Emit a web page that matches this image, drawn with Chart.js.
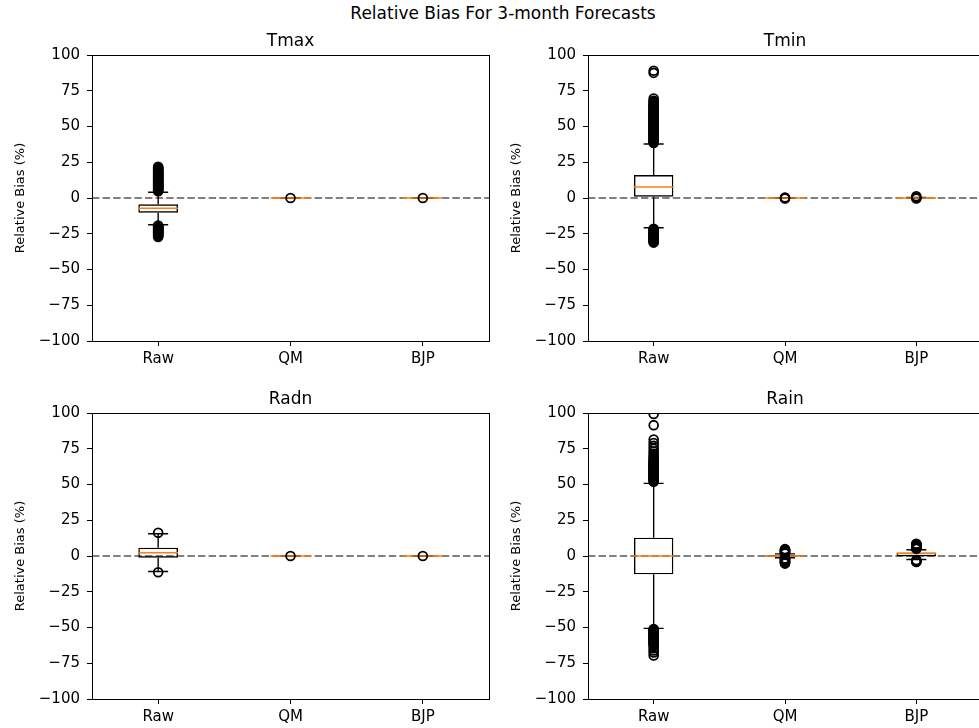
<!DOCTYPE html>
<html>
<head>
<meta charset="utf-8">
<script src="https://cdn.jsdelivr.net/npm/chart.js@4.4.1/dist/chart.umd.min.js"></script>
<style>
    html, body { margin: 0; padding: 0; background: #fff; }
    body { width: 979px; height: 728px; overflow: hidden; position: relative; font-family: 'DejaVu Sans', sans-serif; }
    .suptitle { position: absolute; left: 0; width: 1006px; top: 3px; text-align: center; font-size: 17px; color: #000; }
    canvas { position: absolute; }
    #chart-tmax { left: 0; top: 31px; }
    #chart-tmin { left: 496px; top: 31px; }
    #chart-radn { left: 0; top: 389px; }
    #chart-rain { left: 496px; top: 389px; }
</style>
</head>
<body>
<div class="suptitle">Relative Bias For 3-month Forecasts</div>
<canvas id="chart-tmax" width="495" height="339"></canvas>
<canvas id="chart-tmin" width="490" height="339"></canvas>
<canvas id="chart-radn" width="495" height="339"></canvas>
<canvas id="chart-rain" width="490" height="339"></canvas>
<script>
const categories = ['Raw', 'QM', 'BJP'];
const yTickValues = [-100, -75, -50, -25, 0, 25, 50, 75, 100];
const referenceLine = 0;

// Tmax
const tmaxQ1 = [-10.3, 0, 0];
const tmaxMedian = [-7.2, 0, 0];
const tmaxQ3 = [-4.4, 0, 0];
const tmaxWhiskerLow = [-18.7, 0, 0];
const tmaxWhiskerHigh = [4.0, 0, 0];
const tmaxOutliersRaw = [4.8, 5.2, 5.5, 5.9, 6.2, 6.6, 7.0, 7.4, 7.8, 8.1, 8.5, 8.9, 9.3, 9.6, 10.0, 10.4, 10.8, 11.1, 11.5, 11.9, 12.3, 12.6, 13.0, 13.4, 13.8, 14.1, 14.5, 14.9, 15.3, 15.6, 16.0, 16.4, 16.8, 17.1, 17.5, 17.9, 18.3, 18.6, 19.0, 19.5, 20.0, 20.5, 21.0, 21.4, 21.8,
    -19.2, -19.6, -19.9, -20.3, -20.6, -21.0, -21.3, -21.7, -22.0, -22.4, -22.7, -23.1, -23.4, -23.8, -24.1, -24.5, -24.8, -25.2, -25.5, -25.9, -26.3, -26.7, -27.2];
const tmaxOutliersQM = [0];
const tmaxOutliersBJP = [0];

// Tmin
const tminQ1 = [0.9, 0, 0.2];
const tminMedian = [7.7, 0, 0];
const tminQ3 = [16.0, 0, 0.2];
const tminWhiskerLow = [-20.8, 0, 0];
const tminWhiskerHigh = [37.8, 0, 0.3];
const tminOutliersRaw = [38.5, 39.0, 39.5, 40.0, 40.5, 41.0, 41.5, 42.0, 42.5, 43.0, 43.5, 44.0, 44.5, 45.0, 45.5, 46.0, 46.5, 47.0, 47.5, 48.0, 48.5, 49.0, 49.5, 50.0, 50.5, 51.0, 51.5, 52.0, 52.5, 53.0, 53.5, 54.0, 54.5, 55.0, 55.5, 56.0, 56.5, 57.0, 57.5, 58.0, 58.5, 59.0, 59.5, 60.0, 60.5, 61.0, 61.5, 62.0, 62.5, 63.0, 63.5, 64.0, 64.5, 65.0, 65.5, 66.5, 67.5, 68.0, 69.5, 87.5, 89.0,
    -21.5, -21.9, -22.3, -22.7, -23.1, -23.5, -23.9, -24.3, -24.7, -25.1, -25.5, -25.9, -26.3, -26.7, -27.1, -27.5, -27.9, -28.3, -28.7, -29.1, -29.5, -29.9, -30.3, -30.8, -31.2];
const tminOutliersQM = [0.4, 0, -0.3];
const tminOutliersBJP = [1.2, 0.4, -0.4];

// Radn
const radnQ1 = [-1.2, 0, 0];
const radnMedian = [2.3, 0, 0];
const radnQ3 = [5.8, 0, 0];
const radnWhiskerLow = [-10.8, 0, 0];
const radnWhiskerHigh = [15.6, 0, 0];
const radnOutliersRaw = [16.2, -11.4];
const radnOutliersQM = [0];
const radnOutliersBJP = [0];

// Rain
const rainQ1 = [-12.8, -0.4, -0.3];
const rainMedian = [0, 0, 1.8];
const rainQ3 = [12.8, 0.5, 2.5];
const rainWhiskerLow = [-50.6, -1.2, -2.4];
const rainWhiskerHigh = [50.8, 1.5, 4.4];
const rainOutliersRaw = [52, 52.5, 53, 53.5, 54, 54.5, 55, 55.5, 56, 56.5, 57, 57.5, 58, 58.5, 59, 59.5, 60, 60.5, 61, 61.5, 62, 62.5, 63, 63.5, 64, 64.5, 65, 65.5, 66, 66.5, 67, 68, 69, 70, 71.5, 73, 75, 77, 79, 81.5, 91.5, 99.3,
    -51, -51.5, -52, -52.5, -53, -53.5, -54, -54.5, -55, -55.5, -56, -56.5, -57, -57.5, -58, -58.5, -59, -59.5, -60, -60.5, -61, -61.5, -62, -63, -64.5, -66, -67.5, -69.5];
const rainOutliersQM = [1.8, 2.1, 2.4, 2.7, 3.0, 3.3, 3.6, 3.9, 4.2, 4.5, 4.8, -1.8, -2.1, -2.5, -2.8, -3.2, -3.5, -3.9, -4.2, -4.6, -4.9, -5.3];
const rainOutliersBJP = [5.0, 5.3, 5.6, 5.9, 6.2, 6.5, 6.8, 7.1, 7.4, 7.7, 8.0, 8.3, 8.6, -2.9, -3.2, -3.5, -3.9, -4.2];

Chart.defaults.font.family = "'DejaVu Sans', sans-serif";
Chart.defaults.color = '#000';

const zeroLinePlugin = {
    id: 'zeroLine',
    beforeDatasetsDraw(chart) {
        const { ctx, chartArea, scales } = chart;
        const y = scales.y.getPixelForValue(referenceLine);
        ctx.save();
        ctx.strokeStyle = '#808080';
        ctx.lineWidth = 2;
        ctx.setLineDash([7.4, 3.2]);
        ctx.beginPath();
        ctx.moveTo(chartArea.left, y);
        ctx.lineTo(chartArea.right, y);
        ctx.stroke();
        ctx.restore();
    }
};

// full frame around the plot area (matplotlib spines)
const framePlugin = {
    id: 'frame',
    afterDatasetsDraw(chart) {
        const { ctx, chartArea } = chart;
        ctx.save();
        ctx.strokeStyle = '#000';
        ctx.lineWidth = 1;
        ctx.strokeRect(chartArea.left + 0.5, chartArea.top + 0.5, chartArea.right - chartArea.left, chartArea.bottom - chartArea.top);
        ctx.restore();
    }
};

function minusLabel(v) {
    return v < 0 ? '\u2212' + Math.abs(v) : String(v);
}

function renderBoxplot(canvasId, title, q1, median, q3, whiskerLow, whiskerHigh, outliers) {
    const whiskerPoints = [];
    const capPoints = [];
    categories.forEach((c, i) => {
        whiskerPoints.push({ x: c, y: q1[i] }, { x: c, y: whiskerLow[i] }, { x: c, y: null });
        whiskerPoints.push({ x: c, y: q3[i] }, { x: c, y: whiskerHigh[i] }, { x: c, y: null });
        capPoints.push({ x: c, y: whiskerLow[i] }, { x: c, y: whiskerHigh[i] });
    });
    const medianPoints = categories.map((c, i) => ({ x: c, y: median[i] }));
    const outlierPoints = [];
    categories.forEach((c, i) => {
        outliers[i].forEach(v => outlierPoints.push({ x: c, y: v }));
    });

    const isLeft = canvasId === 'chart-tmax' || canvasId === 'chart-radn';

    new Chart(document.getElementById(canvasId), {
        type: 'bar',
        data: {
            labels: categories,
            datasets: [
                {
                    type: 'bar',
                    data: categories.map((c, i) => [q1[i], q3[i]]),
                    backgroundColor: 'transparent',
                    borderColor: '#000',
                    borderWidth: 1.4,
                    borderSkipped: false,
                    barPercentage: 0.3,
                    categoryPercentage: 1,
                    order: 5
                },
                {
                    type: 'line',
                    data: whiskerPoints,
                    borderColor: '#000',
                    borderWidth: 1.4,
                    pointRadius: 0,
                    spanGaps: false,
                    order: 4
                },
                {
                    type: 'line',
                    data: capPoints,
                    showLine: false,
                    pointStyle: 'line',
                    pointRadius: 10,
                    borderColor: '#000',
                    borderWidth: 1.4,
                    order: 3
                },
                {
                    type: 'line',
                    data: medianPoints,
                    showLine: false,
                    pointStyle: 'line',
                    pointRadius: 20,
                    borderColor: '#ff7f0e',
                    borderWidth: 1.4,
                    order: 2
                },
                {
                    type: 'line',
                    data: outlierPoints,
                    showLine: false,
                    pointStyle: 'circle',
                    pointRadius: 4.4,
                    borderColor: '#000',
                    backgroundColor: 'transparent',
                    borderWidth: 1.8,
                    clip: 0,
                    order: 1
                }
            ]
        },
        options: {
            responsive: false,
            animation: false,
            layout: { autoPadding: false, padding: { left: 0, right: isLeft ? 6 : 4, top: 0, bottom: 0 } },
            plugins: {
                legend: { display: false },
                tooltip: { enabled: false },
                title: {
                    display: true,
                    text: title,
                    fullSize: false,
                    font: { size: 17, weight: 'normal' },
                    color: '#000',
                    padding: { top: 0, bottom: 3.6 }
                }
            },
            scales: {
                x: {
                    type: 'category',
                    offset: true,
                    grid: { display: true, offset: false, drawOnChartArea: false, drawTicks: true, tickLength: 5, tickColor: '#000' },
                    border: { color: '#000', width: 1 },
                    ticks: { font: { size: 15 }, color: '#000', padding: 4, maxRotation: 0 },
                    afterFit(scale) {
                        scale.height = 29;
                        scale.paddingLeft = 0;
                        scale.paddingRight = 0;
                    }
                },
                y: {
                    min: -100,
                    max: 100,
                    afterBuildTicks(scale) { scale.ticks = yTickValues.map(v => ({ value: v })); },
                    grid: { display: true, drawOnChartArea: false, drawTicks: true, tickLength: 5, tickColor: '#000' },
                    border: { color: '#000', width: 1 },
                    ticks: { font: { size: 15 }, color: '#000', padding: 7, callback: minusLabel },
                    title: {
                        display: true,
                        text: 'Relative Bias (%)',
                        font: { size: 13 },
                        color: '#000',
                        padding: { top: 13, bottom: 0 }
                    },
                    afterFit(scale) { scale.width = 92; }
                }
            }
        },
        plugins: [zeroLinePlugin, framePlugin]
    });
}

renderBoxplot('chart-tmax', 'Tmax', tmaxQ1, tmaxMedian, tmaxQ3, tmaxWhiskerLow, tmaxWhiskerHigh,
    [tmaxOutliersRaw, tmaxOutliersQM, tmaxOutliersBJP]);
renderBoxplot('chart-tmin', 'Tmin', tminQ1, tminMedian, tminQ3, tminWhiskerLow, tminWhiskerHigh,
    [tminOutliersRaw, tminOutliersQM, tminOutliersBJP]);
renderBoxplot('chart-radn', 'Radn', radnQ1, radnMedian, radnQ3, radnWhiskerLow, radnWhiskerHigh,
    [radnOutliersRaw, radnOutliersQM, radnOutliersBJP]);
renderBoxplot('chart-rain', 'Rain', rainQ1, rainMedian, rainQ3, rainWhiskerLow, rainWhiskerHigh,
    [rainOutliersRaw, rainOutliersQM, rainOutliersBJP]);
</script>
</body>
</html>
